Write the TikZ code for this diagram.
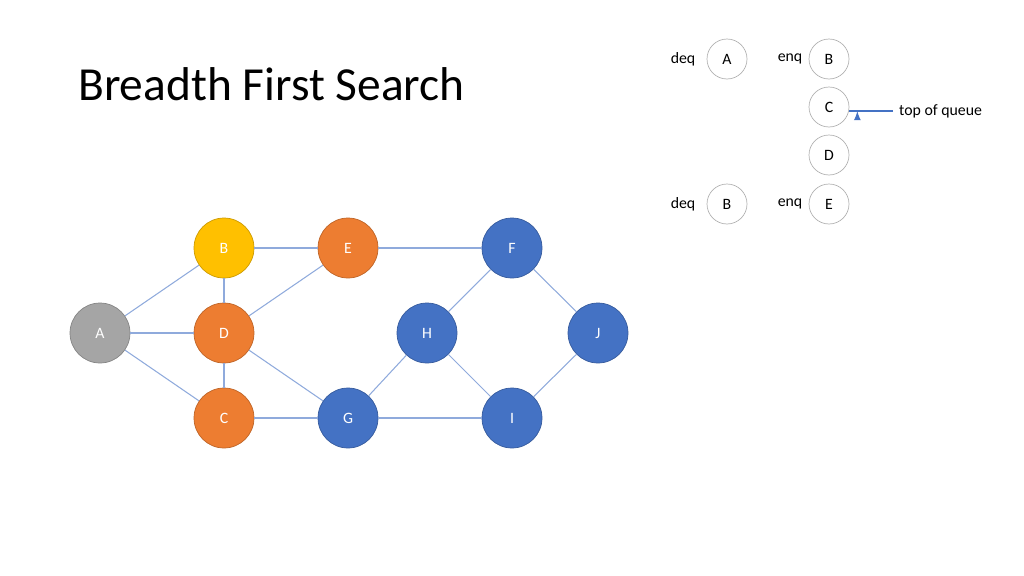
\documentclass[tikz,border=0pt]{standalone}
\usepackage{fontspec}
\setmainfont{Carlito}
\definecolor{vgray}{HTML}{A5A5A5}
\definecolor{vyellow}{HTML}{FFC000}
\definecolor{vorange}{HTML}{ED7D31}
\definecolor{vblue}{HTML}{4472C4}
\definecolor{edgeblue}{HTML}{8FAADC}
\begin{document}
\begin{tikzpicture}[x=0.02cm,y=-0.02cm,
	vert/.style={circle,minimum size=1.2cm,inner sep=0pt,draw=#1!80!black,fill=#1,text=white,font=\fontsize{9}{10}\selectfont},
	qnode/.style={circle,minimum size=0.8cm,inner sep=0pt,draw=gray!60,font=\fontsize{9}{10}\selectfont},
	lbl/.style={font=\fontsize{9}{10}\selectfont}]
	\useasboundingbox (0,0) rectangle (1024,575);
	\node[anchor=west,font=\fontsize{27}{30}\selectfont] (title) at (72,84) {Breadth First Search};
	\node[vert=vgray] (A) at (100,333) {A};
	\node[vert=vyellow] (B) at (224,248) {B};
	\node[vert=vorange] (D) at (224,333) {D};
	\node[vert=vorange] (C) at (224,418) {C};
	\node[vert=vorange] (E) at (348,248) {E};
	\node[vert=vblue] (G) at (348,418) {G};
	\node[vert=vblue] (F) at (512,248) {F};
	\node[vert=vblue] (H) at (427,333) {H};
	\node[vert=vblue] (I) at (512,418) {I};
	\node[vert=vblue] (J) at (598,333) {J};
	\foreach \u/\v in {A/B,A/D,A/C,B/D,B/E,D/C,D/E,D/G,C/G,E/F,F/H,F/J,H/G,H/I,G/I,I/J}
		\draw[edgeblue,line width=0.6pt] (\u) -- (\v);
	% queue
	\node[lbl] (deq1) at (683,59) {deq};
	\node[qnode] (qA) at (727,59) {A};
	\node[lbl] (enq1) at (790,59) {enq};
	\node[qnode] (qB) at (829,59) {B};
	\node[qnode] (qC) at (829,107) {C};
	\node[qnode] (qD) at (829,155) {D};
	\node[lbl] (deq2) at (683,204) {deq};
	\node[qnode] (qB2) at (727,204) {B};
	\node[lbl] (enq2) at (790,204) {enq};
	\node[qnode] (qE) at (829,204) {E};
	\node[lbl,anchor=west] (top) at (893,111) {top of queue};
	\draw[vblue,-latex,line width=0.8pt] (top.west) -- (qC.east |- top.west) ++(8,0);
\end{tikzpicture}
\end{document}
